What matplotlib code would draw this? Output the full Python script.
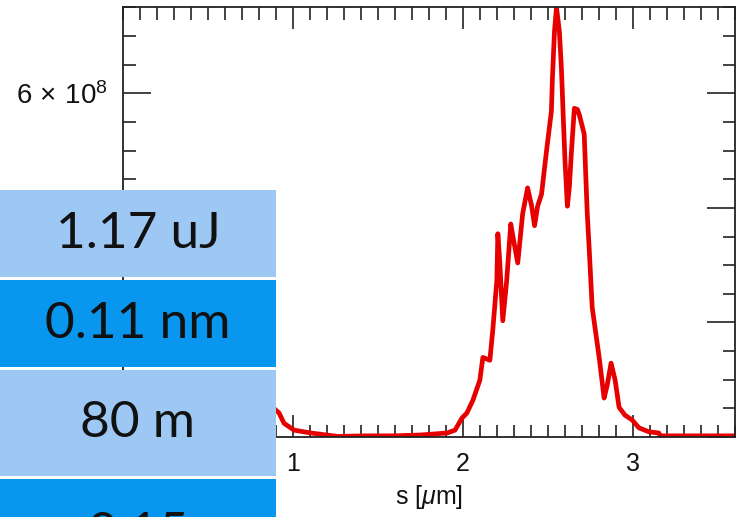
import matplotlib
matplotlib.use("Agg")
import matplotlib.pyplot as plt
from matplotlib.ticker import MultipleLocator, FuncFormatter
from matplotlib.patches import Rectangle

# ---- data ----
s_um = [0.85, 0.918, 0.947, 1.006, 1.105, 1.263, 1.427, 1.591, 1.749, 1.906,
        1.953, 1.994, 2.023, 2.058, 2.099, 2.117, 2.158, 2.175, 2.199, 2.205,
        2.216, 2.234, 2.257, 2.281, 2.298, 2.322, 2.351, 2.380, 2.404, 2.421,
        2.439, 2.462, 2.491, 2.520, 2.526, 2.538, 2.550, 2.567, 2.579, 2.590,
        2.600, 2.614, 2.626, 2.637, 2.655, 2.673, 2.684, 2.713, 2.725, 2.731,
        2.743, 2.760, 2.801, 2.830, 2.848, 2.871, 2.895, 2.918, 2.953, 2.994,
        3.035, 3.094, 3.152, 3.160, 3.269, 3.600]
power_1e8 = [0.60, 0.42, 0.24, 0.12, 0.07, 0.01, 0.02, 0.02, 0.035, 0.07,
             0.12, 0.33, 0.42, 0.64, 0.99, 1.39, 1.34, 1.86, 2.73, 3.55,
             3.08, 2.03, 2.73, 3.72, 3.43, 3.04, 3.90, 4.35, 4.03, 3.69,
             4.03, 4.24, 4.99, 5.69, 6.26, 7.08, 7.50, 7.08, 6.43, 5.57,
             4.82, 4.03, 4.38, 4.94, 5.74, 5.72, 5.63, 5.29, 4.35, 3.90,
             3.25, 2.26, 1.39, 0.68, 0.90, 1.29, 0.99, 0.52, 0.38, 0.30,
             0.16, 0.09, 0.07, 0.02, 0.02, 0.02]
x_ticks = [1, 2, 3]
y_major = [0, 2e8, 4e8, 6e8]
y_shown = [6e8]  # the other tick labels lie behind the table
table_texts = ["1.17 uJ", "0.11 nm", "80 m", "0.15"]
table_colors = ["#9ec8f4", "#0896ee", "#9ec8f4", "#0896ee"]

plt.rcParams['mathtext.fontset'] = 'custom'
plt.rcParams['mathtext.rm'] = 'Liberation Sans'
plt.rcParams['mathtext.it'] = 'Liberation Sans:italic'
plt.rcParams['font.family'] = ['Liberation Sans', 'DejaVu Sans']

W, H = 742, 517
fig = plt.figure(figsize=(W / 100, H / 100), dpi=100)
ax = fig.add_axes([123 / W, (H - 437) / H, (735 - 123) / W, (437 - 7.5) / H])

power = [p * 1e8 for p in power_1e8]
ax.plot(s_um, power, color="#e60000", lw=3.4, solid_joinstyle='round')

ax.set_xlim(0, 3.6)
ax.set_ylim(0, 7.5e8)
ax.set_xticks(x_ticks)
ax.xaxis.set_minor_locator(MultipleLocator(0.1))
ax.set_yticks(y_major)
ax.yaxis.set_minor_locator(MultipleLocator(0.5e8))


def yfmt(v, pos):
    if v not in y_shown:
        return ""
    return r"%d$\,\times\,$10$^{8}$" % round(v / 1e8)


ax.yaxis.set_major_formatter(FuncFormatter(yfmt))
ax.tick_params(which='both', direction='in', top=True, right=True,
               color='#222222', width=1.2, labelcolor='#111111')
ax.tick_params(axis='x', which='major', length=16, pad=11, labelsize=18)
ax.tick_params(axis='x', which='minor', length=9)
ax.tick_params(axis='y', which='major', length=20, pad=11, labelsize=20)
ax.tick_params(axis='y', which='minor', length=9)
for sp in ax.spines.values():
    sp.set_color('#222222')
    sp.set_linewidth(1.3)
ax.set_xlabel(r"s [$\mu$m]", fontsize=18, labelpad=5, color='#111111')

# ---- overlay table ----
ov = fig.add_axes([0, 0, 1, 1], zorder=10)
ov.set_xlim(0, W)
ov.set_ylim(H, 0)
ov.axis('off')
ov.patch.set_alpha(0)
cells = [(190, 277), (280, 367), (370, 476), (479, 600)]
for (t0, t1), txt, col in zip(cells, table_texts, table_colors):
    ov.add_patch(Rectangle((0, t0), 276, t1 - t0, facecolor=col, edgecolor='none'))
    yc = (t0 + t1) / 2 if t1 < 560 else t0 + 55
    ov.text(138, yc, txt, ha='center', va='center', fontsize=37,
            family='Lato', color='#111111')

fig.savefig("out.png", dpi=100)
